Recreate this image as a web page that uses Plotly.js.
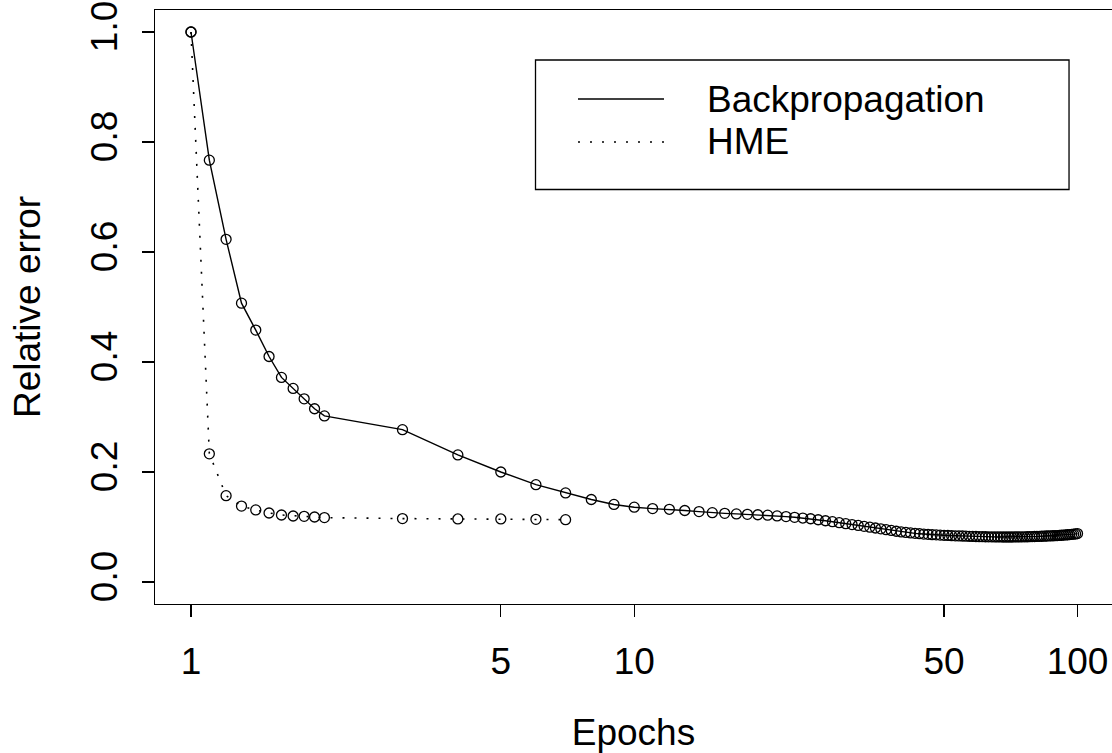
<!DOCTYPE html>
<html>
<head>
<meta charset="utf-8">
<script src="https://cdn.plot.ly/plotly-3.0.1.min.js"></script>
<style>html,body{margin:0;padding:0;background:#fff;}#chart{width:1112px;height:753px;}</style>
</head>
<body>
<div id="chart"></div>
<script>
// Epoch values (log-scaled x axis)
const bpEpochs = [1, 1.1, 1.2, 1.3, 1.4, 1.5, 1.6, 1.7, 1.8, 1.9, 2,
  3, 4, 5, 6, 7, 8, 9, 10,
  11, 12, 13, 14, 15, 16, 17, 18, 19, 20,
  21, 22, 23, 24, 25, 26, 27, 28, 29, 30,
  31, 32, 33, 34, 35, 36, 37, 38, 39, 40,
  41, 42, 43, 44, 45, 46, 47, 48, 49, 50,
  51, 52, 53, 54, 55, 56, 57, 58, 59, 60,
  61, 62, 63, 64, 65, 66, 67, 68, 69, 70,
  71, 72, 73, 74, 75, 76, 77, 78, 79, 80,
  81, 82, 83, 84, 85, 86, 87, 88, 89, 90,
  91, 92, 93, 94, 95, 96, 97, 98, 99, 100];
const bpError = [1.000, 0.767, 0.623, 0.507, 0.458, 0.410, 0.372, 0.352, 0.333, 0.315, 0.302,
  0.277, 0.231, 0.200, 0.177, 0.162, 0.150, 0.141, 0.136,
  0.1335, 0.1322, 0.1300, 0.1280, 0.1260, 0.1248, 0.1238, 0.1230, 0.1223, 0.1215,
  0.1202, 0.1189, 0.1176, 0.1163, 0.1150, 0.1132, 0.1114, 0.1096, 0.1078, 0.1060,
  0.1044, 0.1028, 0.1012, 0.0997, 0.0982, 0.0967, 0.0952, 0.0938, 0.0923, 0.0910,
  0.0901, 0.0893, 0.0885, 0.0878, 0.0871, 0.0866, 0.0861, 0.0857, 0.0853, 0.0849,
  0.0846, 0.0843, 0.0840, 0.0838, 0.0836, 0.0833, 0.0831, 0.0829, 0.0827, 0.0825,
  0.0824, 0.0823, 0.0822, 0.0821, 0.0820, 0.0819, 0.0819, 0.0818, 0.0818, 0.0818,
  0.0818, 0.0819, 0.0819, 0.0820, 0.0821, 0.0822, 0.0823, 0.0824, 0.0826, 0.0827,
  0.0829, 0.0830, 0.0832, 0.0834, 0.0836, 0.0837, 0.0839, 0.0841, 0.0843, 0.0845,
  0.0847, 0.0850, 0.0853, 0.0856, 0.0859, 0.0863, 0.0866, 0.0870, 0.0875, 0.0880];

const hmeEpochs = [1, 1.1, 1.2, 1.3, 1.4, 1.5, 1.6, 1.7, 1.8, 1.9, 2, 3, 4, 5, 6, 7];
const hmeError = [1.000, 0.233, 0.157, 0.138, 0.131, 0.1255, 0.1218, 0.1200, 0.1194, 0.1182, 0.1171,
  0.1153, 0.1146, 0.1146, 0.1140, 0.1134];

const xTickVals = [1, 5, 10, 50, 100];
const xTickText = ['1', '5', '10', '50', '100'];
const yTickVals = [0, 0.2, 0.4, 0.6, 0.8, 1.0];
const yTickText = ['0.0', '0.2', '0.4', '0.6', '0.8', '1.0'];
const seriesNames = ['Backpropagation', 'HME'];

const FONT = 'Liberation Sans, Arial, Helvetica, sans-serif';
const FS = 37;

const traces = [
  {
    x: bpEpochs, y: bpError, name: seriesNames[0], type: 'scatter', mode: 'lines+markers',
    line: {color: '#000', width: 1.4, dash: 'solid'},
    marker: {symbol: 'circle-open', size: 10, color: '#000', line: {width: 1.3, color: '#000'}}
  },
  {
    x: hmeEpochs, y: hmeError, name: seriesNames[1], type: 'scatter', mode: 'lines+markers',
    line: {color: '#000', width: 1.6, dash: '2px,10px'},
    marker: {symbol: 'circle-open', size: 10, color: '#000', line: {width: 1.3, color: '#000'}}
  }
];

// manual R-style legend (paper coordinates)
const lx0 = 0.3976, lx1 = 0.9551, ly0 = 0.6978, ly1 = 0.9158;
const sx0 = 0.442, sx1 = 0.5319, tx = 0.5789;
const rowY = [0.8502, 0.7778];
const textY = [0.8486, 0.7790];

const layout = {
  width: 1112, height: 753,
  margin: {l: 155, r: 0, t: 10, b: 149, pad: 0},
  paper_bgcolor: '#fff', plot_bgcolor: '#fff',
  showlegend: false,
  font: {family: FONT, size: FS, color: '#000'},
  xaxis: {
    type: 'log', range: [-0.0812, 2.0778],
    tickmode: 'array', tickvals: xTickVals, ticktext: xTickText,
    ticks: 'outside', ticklen: 12, tickwidth: 1.3, tickcolor: '#000',
    showline: true, linecolor: '#000', linewidth: 1.3, mirror: true,
    showgrid: false, zeroline: false,
    tickfont: {family: FONT, size: FS, color: '#000'},
    ticklabelstandoff: 12,
    title: {text: 'Epochs', font: {family: FONT, size: FS, color: '#000'}, standoff: 50}
  },
  yaxis: {
    range: [-0.04, 1.04],
    tickmode: 'array', tickvals: yTickVals, ticktext: yTickText,
    ticks: 'outside', ticklen: 12, tickwidth: 1.3, tickcolor: '#000',
    showline: true, linecolor: '#000', linewidth: 1.3, mirror: false,
    showgrid: false, zeroline: false,
    tickangle: -90,
    tickfont: {family: FONT, size: FS, color: '#000'},
    ticklabelstandoff: 10,
    title: {text: 'Relative error', font: {family: FONT, size: FS, color: '#000'}, standoff: 32}
  },
  shapes: [
    {type: 'rect', xref: 'paper', yref: 'paper', x0: lx0, x1: lx1, y0: ly0, y1: ly1,
     line: {color: '#000', width: 1.3}, fillcolor: 'rgba(0,0,0,0)'},
    {type: 'line', xref: 'paper', yref: 'paper', x0: sx0, x1: sx1, y0: rowY[0], y1: rowY[0],
     line: {color: '#000', width: 1.4, dash: 'solid'}},
    {type: 'line', xref: 'paper', yref: 'paper', x0: sx0, x1: sx1, y0: rowY[1], y1: rowY[1],
     line: {color: '#000', width: 1.6, dash: '2px,10px'}}
  ],
  annotations: seriesNames.map((n, i) => ({
    text: n, xref: 'paper', yref: 'paper', x: tx - 0.004, y: textY[i],
    xanchor: 'left', yanchor: 'middle', showarrow: false,
    font: {family: FONT, size: FS, color: '#000'}
  }))
};

Plotly.newPlot('chart', traces, layout, {staticPlot: true, displayModeBar: false});
</script>
</body>
</html>
